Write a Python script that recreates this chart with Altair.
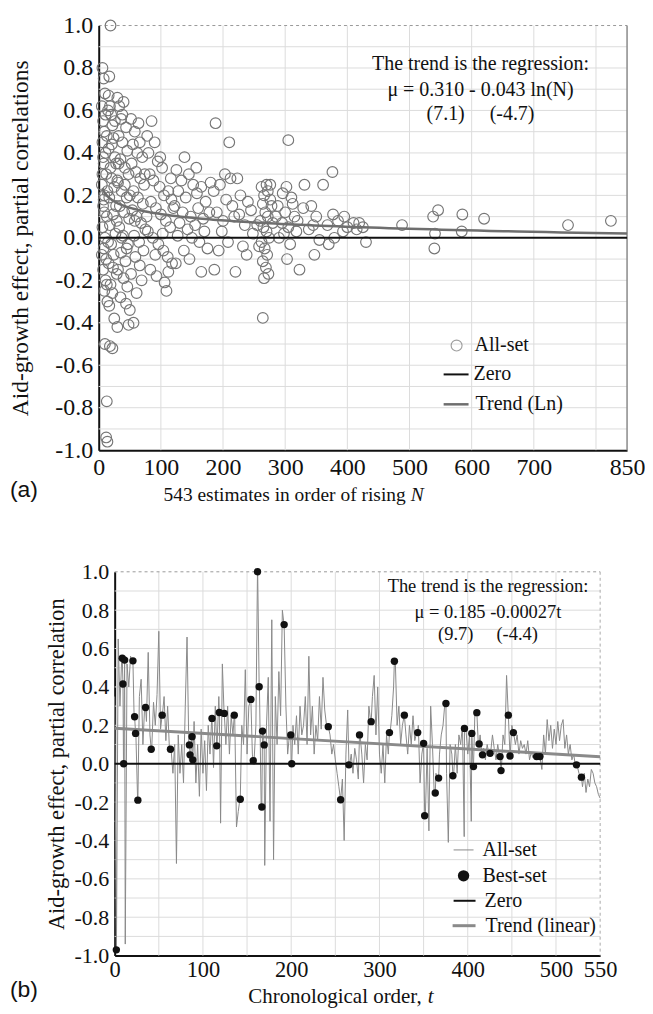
import altair as alt
import numpy as np
import pandas as pd

SERIF = "Liberation Serif"
SANS = "Liberation Sans"
INK = "#111111"
GRID = "#dcdcdc"
NB = "\u00a0"

# ---------------- Panel (a): estimates (N, partial correlation) ----------------
A_BAND_05_15 = [(6, 0.80), (8, 0.75), (10, 0.68), (7, 0.55), (9, 0.50), (6, 0.45), (11, 0.40),
                (8, 0.35), (12, 0.30), (5, 0.25), (9, 0.20), (7, 0.15), (13, 0.10), (6, 0.05),
                (10, 0.00), (8, -0.05), (12, -0.10), (7, -0.15), (11, -0.20), (9, -0.25),
                (14, -0.30), (10, -0.50), (13, -0.77), (12, -0.94), (14, -0.96), (15, 0.60),
                (13, 0.48), (14, 0.22), (15, -0.02), (6, 0.30), (5, 0.62), (7, 0.38), (9, 0.12),
                (11, 0.58), (13, -0.22), (5, -0.08), (8, 0.18)]
A_BAND_15_30 = [(19, 1.00), (17, 0.76), (16, 0.67), (18, 0.62), (20, 0.58), (22, 0.53), (24, 0.47),
                (16, 0.42), (26, 0.38), (19, 0.33), (21, 0.28), (25, 0.24), (17, 0.19), (28, 0.15),
                (23, 0.11), (18, 0.06), (27, 0.02), (20, -0.03), (24, -0.08), (16, -0.12),
                (29, -0.17), (19, -0.22), (22, -0.26), (17, -0.32), (25, -0.38), (30, -0.42),
                (22, -0.52), (18, -0.51), (26, 0.55), (28, 0.35), (29, 0.08), (21, 0.44),
                (30, 0.27), (23, -0.14)]
A_BAND_30_50 = [(30, 0.66), (33, 0.62), (40, 0.64), (36, 0.56), (44, 0.52), (32, 0.48), (38, 0.45),
                (46, 0.41), (35, 0.37), (42, 0.33), (48, 0.30), (31, 0.26), (37, 0.22), (45, 0.19),
                (34, 0.15), (41, 0.12), (49, 0.09), (33, 0.05), (39, 0.01), (47, -0.03),
                (36, -0.07), (43, -0.11), (31, -0.15), (40, -0.19), (46, -0.23), (35, -0.28),
                (44, -0.31), (48, -0.41), (50, -0.34), (38, 0.58), (42, 0.25), (37, 0.00),
                (45, -0.05), (32, 0.35)]
A_BAND_50_75 = [(52, 0.56), (58, 0.50), (64, 0.54), (55, 0.44), (62, 0.40), (70, 0.38), (53, 0.35),
                (60, 0.31), (67, 0.28), (73, 0.25), (56, 0.22), (63, 0.19), (71, 0.16), (54, 0.13),
                (61, 0.10), (68, 0.07), (75, 0.04), (57, 0.01), (65, -0.02), (72, -0.06),
                (59, -0.09), (66, -0.13), (52, -0.17), (69, -0.20), (56, -0.40), (61, -0.26),
                (74, 0.30), (50, 0.20), (58, 0.08), (66, 0.45)]
A_BAND_75_120 = [(85, 0.55), (78, 0.48), (90, 0.45), (80, 0.40), (95, 0.36), (102, 0.33), (82, 0.30),
                 (88, 0.27), (98, 0.24), (105, 0.20), (112, 0.22), (84, 0.17), (92, 0.14),
                 (100, 0.11), (108, 0.08), (115, 0.05), (79, 0.03), (87, 0.00), (96, -0.03),
                 (104, -0.06), (111, -0.09), (118, -0.12), (83, -0.15), (93, -0.18),
                 (106, -0.21), (109, -0.25), (112, -0.16), (99, 0.38), (116, 0.28), (120, 0.14),
                 (77, 0.10), (91, -0.08), (103, 0.02), (117, 0.18)]
A_BAND_120_180 = [(138, 0.38), (125, 0.32), (133, 0.27), (145, 0.30), (152, 0.25), (128, 0.22),
                  (140, 0.19), (158, 0.21), (165, 0.24), (122, 0.15), (135, 0.12), (148, 0.10),
                  (160, 0.14), (172, 0.17), (130, 0.07), (143, 0.04), (155, 0.06), (168, 0.09),
                  (178, 0.12), (127, 0.01), (150, 0.00), (162, -0.02), (175, -0.05),
                  (137, -0.06), (146, -0.10), (165, -0.16), (157, 0.33), (170, 0.03),
                  (124, -0.12), (180, 0.26)]
A_BAND_180_250 = [(188, 0.54), (210, 0.45), (212, 0.28), (223, 0.28), (185, 0.22), (195, 0.25),
                  (205, 0.18), (215, 0.15), (228, 0.20), (240, 0.17), (190, 0.12), (200, 0.08),
                  (218, 0.10), (235, 0.06), (245, 0.13), (186, -0.15), (198, 0.03), (208, -0.02),
                  (220, -0.16), (232, -0.04), (248, 0.02), (238, -0.08), (193, -0.06),
                  (226, 0.11), (203, 0.30)]
A_BAND_250_280 = [(262, 0.24), (266, 0.20), (270, 0.25), (264, 0.16), (268, 0.12), (272, 0.10),
                  (260, 0.08), (265, 0.05), (270, 0.03), (274, 0.00), (262, -0.02), (267, -0.05),
                  (271, -0.08), (264, -0.11), (269, -0.14), (273, -0.17), (266, -0.19),
                  (264, -0.377), (276, 0.25), (278, 0.15), (255, 0.06), (258, -0.04), (280, 0.07),
                  (276, 0.18), (272, 0.22)]
A_BAND_280_360 = [(305, 0.46), (302, 0.24), (296, 0.21), (310, 0.19), (288, 0.15), (300, 0.12),
                  (315, 0.10), (295, 0.07), (305, 0.05), (318, 0.03), (290, 0.00), (308, -0.03),
                  (298, 0.02), (323, -0.15), (329, 0.14), (331, 0.25), (345, 0.06), (355, -0.01),
                  (347, -0.08), (285, 0.10), (312, 0.16), (338, 0.04), (350, 0.10), (303, -0.10),
                  (320, 0.08), (342, 0.15)]
A_BAND_360_450 = [(361, 0.25), (376, 0.31), (377, 0.11), (379, 0.00), (393, 0.03), (368, 0.06),
                  (385, 0.08), (400, 0.05), (410, 0.07), (419, 0.07), (425, 0.05), (430, -0.02),
                  (395, 0.10), (370, -0.03), (415, 0.04)]
A_BAND_450_850 = [(488, 0.06), (538, 0.10), (546, 0.13), (541, 0.02), (540, -0.05), (584, 0.03),
                  (585, 0.11), (620, 0.09), (755, 0.06), (824, 0.08)]

A_TREND_INTERCEPT, A_TREND_SLOPE = 0.310, -0.043   # mu = 0.310 - 0.043 ln(N)
A_X_TICKS = [0, 100, 200, 300, 400, 500, 600, 700, 850]
A_X_GRID = [100, 200, 300, 400, 500, 600, 700, 800]
Y_TICKS = [-1.0, -0.8, -0.6, -0.4, -0.2, 0.0, 0.2, 0.4, 0.6, 0.8, 1.0]
Y_GRID = [-0.9, -0.8, -0.7, -0.6, -0.5, -0.4, -0.3, -0.2, -0.1, 0.1, 0.2, 0.3, 0.4, 0.5,
          0.6, 0.7, 0.8, 0.9]

# ---------------- Panel (b): chronological order ----------------
B_ALL_T = list(range(0, 551, 2))
B_ALL_R = [
    0.35, -0.97, 0.65, 0.30, 0.55, 0.00, -0.94, 0.52, 0.40, 0.56,
    0.53, 0.25, 0.16, -0.19, 0.35, 0.44, 0.10, 0.30, 0.22, 0.58,
    0.15, 0.08, 0.32, 0.20, 0.36, 0.69, 0.18, 0.25, 0.35, 0.12,
    0.30, 0.08, 0.07, -0.05, 0.10, -0.52, 0.15, -0.05, 0.10, -0.10,
    0.30, 0.66, 0.10, 0.05, 0.02, 0.22, -0.10, 0.10, -0.17, 0.18,
    -0.05, 0.12, -0.14, 0.20, 0.05, 0.24, -0.02, 0.30, 0.09, 0.35,
    -0.31, 0.52, 0.26, 0.10, 0.30, 0.05, 0.25, 0.15, 0.25, -0.33,
    -0.25, -0.18, 0.20, 0.10, 0.49, 0.05, 0.30, 0.33, 0.05, 0.02,
    0.20, 1.00, 0.40, -0.22, 0.17, -0.53, 0.20, 0.45, -0.30, 0.75,
    -0.50, 0.35, 0.10, 0.48, 0.25, 0.80, 0.72, 0.30, 0.05, 0.15,
    0.00, 0.20, 0.10, 0.25, 0.05, 0.30, 0.15, 0.20, 0.35, 0.10,
    0.56, 0.15, 0.30, 0.05, 0.20, 0.12, 0.35, 0.18, 0.45, 0.28,
    0.20, 0.19, 0.15, 0.05, 0.10, 0.02, -0.05, -0.12, -0.19, -0.08,
    -0.40, 0.05, 0.28, -0.01, 0.05, -0.05, 0.08, 0.02, -0.08, 0.15,
    0.05, -0.10, 0.10, 0.02, 0.30, 0.22, 0.35, 0.46, 0.15, 0.40,
    0.05, -0.05, 0.10, -0.10, 0.15, 0.05, 0.16, 0.25, 0.40, 0.53,
    0.20, 0.30, 0.10, 0.20, 0.25, 0.15, 0.05, 0.20, 0.10, 0.25,
    0.12, 0.16, 0.20, -0.10, 0.05, 0.11, -0.27, 0.08, -0.35, 0.30,
    0.10, -0.15, -0.05, -0.08, 0.05, 0.15, 0.20, 0.31, -0.05, -0.41,
    0.10, 0.05, -0.06, 0.10, -0.05, 0.15, 0.10, 0.20, -0.38, 0.18,
    0.05, 0.15, -0.30, -0.02, 0.25, 0.27, 0.10, 0.15, 0.05, 0.08,
    0.02, 0.10, 0.05, 0.06, 0.15, 0.08, 0.02, 0.10, 0.04, -0.04,
    0.15, 0.10, 0.46, 0.25, 0.04, 0.20, 0.16, 0.10, 0.15, 0.05,
    0.12, 0.08, 0.10, 0.05, 0.12, 0.02, 0.06, 0.03, 0.05, 0.04,
    0.04, 0.03, -0.03, 0.15, 0.05, 0.23, 0.12, 0.20, 0.08, 0.18,
    0.10, 0.22, 0.12, 0.20, 0.23, 0.08, 0.15, 0.05, 0.10, 0.02,
    0.05, -0.01, -0.01, -0.05, -0.07, -0.12, -0.05, -0.15, -0.08, -0.12,
    -0.03, -0.05, -0.10, -0.12, -0.16, -0.18,
]
B_BEST = [(1.9, -0.97), (8.6, 0.55), (11.3, 0.54), (20.7, 0.536), (9.4, 0.415), (10.2, 0.0),
          (22.6, 0.245), (23.7, 0.158), (26.3, -0.19), (35, 0.293), (41.4, 0.075), (53.8, 0.253),
          (63.2, 0.075), (84.7, 0.098), (85.4, 0.046), (88.5, 0.02), (87.7, 0.141),
          (110.3, 0.236), (115.6, 0.093), (118.6, 0.267), (124.2, 0.262), (135.5, 0.253),
          (142.3, -0.185), (154.3, 0.335), (157, 0.016), (161.8, 1.0), (163.7, 0.401),
          (166.7, -0.226), (167.5, 0.17), (169.4, 0.098), (192, 0.725), (199.5, 0.15),
          (200.6, 0.0), (242, 0.193), (256, -0.188), (265.4, -0.006), (277.4, 0.15),
          (290.6, 0.219), (311.3, 0.162), (316.9, 0.534), (328.2, 0.253), (343.3, 0.162),
          (350, 0.106), (351.2, -0.271), (363.2, -0.153), (367, -0.075), (375.3, 0.314),
          (383.2, -0.063), (396.3, 0.184), (404.6, 0.158), (406.5, -0.015), (410.3, 0.266),
          (412.9, 0.103), (416.7, 0.046), (425.3, 0.054), (436.6, 0.037), (437.7, -0.036),
          (446, 0.253), (447.9, 0.04), (451.7, 0.162), (478, 0.037), (481.8, 0.037),
          (523.2, -0.006), (528.8, -0.07)]
B_TREND_INTERCEPT, B_TREND_SLOPE = 0.185, -0.00027   # mu = 0.185 - 0.00027 t
B_X_TICKS = [0, 100, 200, 300, 400, 500, 550]
B_X_GRID = [50, 100, 150, 200, 250, 300, 350, 400, 450, 500]

# layout (both panels share the same left origin; panel b is inset by B_IN)
W_A, H_A = 530, 426
B_IN = 16
W_B, H_B = 503, 385

ONE = pd.DataFrame({"k": [0]})
MINUS_FIX = "(datum.value < 0 ? '-' : '') + format(abs(datum.value), '.1f')"


def text(txt, x, y, size, font=SERIF, align="left", style="normal"):
    return alt.Chart(ONE).mark_text(
        text=txt, font=font, fontSize=size, align=align, baseline="middle", color=INK,
        fontStyle=style
    ).encode(x=alt.value(x), y=alt.value(y))


def hline(x1, x2, y, color, width, dash=None):
    kw = dict(color=color, strokeWidth=width)
    if dash:
        kw["strokeDash"] = dash
    return alt.Chart(ONE).mark_rule(**kw).encode(x=alt.value(x1), x2=alt.value(x2), y=alt.value(y))


def vline(x, y1, y2, color, width, dash=None):
    kw = dict(color=color, strokeWidth=width)
    if dash:
        kw["strokeDash"] = dash
    return alt.Chart(ONE).mark_rule(**kw).encode(x=alt.value(x), y=alt.value(y1), y2=alt.value(y2))


def make_axes(x_ticks, y_title, ytitle_x, ytitle_y, xlab, ylab, tsize, xpad=5, yoffset=0):
    common = dict(grid=False, ticks=False, domainColor=INK, domainWidth=2, labelFont=SERIF,
                  labelColor=INK, labelFlush=False, labelOverlap=False, titleFont=SERIF,
                  titleFontWeight="normal", titleColor=INK, titleFontSize=tsize)
    ax = alt.Axis(values=x_ticks, format="d", title=None, labelFontSize=xlab, labelPadding=xpad,
                  **common)
    ay = alt.Axis(values=Y_TICKS, labelExpr=MINUS_FIX, title=y_title, labelFontSize=ylab,
                  labelPadding=6, titleX=ytitle_x, titleY=ytitle_y, titleAngle=270,
                  titleAlign="center", titleBaseline="middle", offset=yoffset, **common)
    return ax, ay


ys = alt.Scale(domain=[-1, 1], nice=False)

# ---------------- build panel (a) ----------------
rows = []
for band in [A_BAND_05_15, A_BAND_15_30, A_BAND_30_50, A_BAND_50_75, A_BAND_75_120,
             A_BAND_120_180, A_BAND_180_250, A_BAND_250_280, A_BAND_280_360,
             A_BAND_360_450, A_BAND_450_850]:
    rows.extend(band)
df_a = pd.DataFrame(rows, columns=["x", "y"])

xa = alt.Scale(domain=[0, 850], nice=False, zero=False)
ax_a, ay_a = make_axes(A_X_TICKS, "Aid-growth effect, partial correlations", -78, H_A / 2,
                       24, 24, 23.5)


def XA():
    return alt.X("x:Q", scale=xa, axis=ax_a)


def YA():
    return alt.Y("y:Q", scale=ys, axis=ay_a)


gh_a = alt.Chart(pd.DataFrame({"y": Y_GRID})).mark_rule(color=GRID, strokeWidth=1).encode(
    y=YA(), x=alt.value(0), x2=alt.value(W_A))
gv_a = alt.Chart(pd.DataFrame({"x": A_X_GRID})).mark_rule(color=GRID, strokeWidth=1).encode(
    x=XA(), y=alt.value(0), y2=alt.value(H_A))

points_a = alt.Chart(df_a).mark_point(shape="circle", filled=False, size=115, color="#767676",
                                      strokeWidth=1.15, opacity=1).encode(x=XA(), y=YA())

zero_a = alt.Chart(pd.DataFrame({"x": [0], "x2": [850], "y": [0]})).mark_rule(
    color=INK, strokeWidth=2).encode(x=XA(), x2="x2:Q", y=YA())

trend_a = alt.Chart(pd.DataFrame({"x": np.geomspace(6, 850, 150)})).transform_calculate(
    y=f"{A_TREND_INTERCEPT} + ({A_TREND_SLOPE}) * log(datum.x)"
).mark_line(color="#6e6e6e", strokeWidth=2.5).encode(x=XA(), y=YA())

leg_a = [
    alt.Chart(ONE).mark_point(shape="circle", filled=False, size=120, color="#767676",
                              strokeWidth=1.15).encode(x=alt.value(359), y=alt.value(321)),
    text("All-set", 377, 321, 20),
    hline(346, 371, 350, INK, 2),
    text("Zero", 376, 350, 20),
    hline(346, 371, 380, "#6e6e6e", 2.5),
    text("Trend (Ln)", 378, 380, 20),
]

panel_a = alt.layer(
    gh_a, gv_a,
    hline(0, W_A, 0, "#9a9a9a", 1, [3, 3]),
    vline(W_A, 0, H_A, "#8a8a8a", 1.5),
    points_a, zero_a, trend_a,
    text("The trend is the regression:", 383, 39, 20, align="center"),
    text("μ = 0.310 - 0.043 ln(N)", 383, 65, 20, align="center"),
    text(f"(7.1){NB*5}(-4.7)", 383, 89, 20, align="center"),
    *leg_a,
    text("543 estimates in order of rising", 65, 471, 19.5),
    text("N", 313, 471, 19.5, style="italic"),
    text("(a)", -89, 466, 23, font=SANS),
).properties(width=W_A, height=H_A)

# ---------------- build panel (b) ----------------
df_line = pd.concat([
    pd.DataFrame({"x": B_ALL_T, "y": B_ALL_R}),
    pd.DataFrame(B_BEST, columns=["x", "y"]),
]).sort_values("x", kind="stable")
df_best = pd.DataFrame(B_BEST, columns=["x", "y"])

xb = alt.Scale(domain=[0, 550], nice=False, zero=False, range=[B_IN, W_B])
ax_b, ay_b = make_axes(B_X_TICKS, "Aid-growth effect, partial correlation", -58, H_B / 2,
                       22.5, 22, 22.5, xpad=3, yoffset=-B_IN)


def XB():
    return alt.X("x:Q", scale=xb, axis=ax_b)


def YB():
    return alt.Y("y:Q", scale=ys, axis=ay_b)


gh_b = alt.Chart(pd.DataFrame({"y": Y_GRID})).mark_rule(color=GRID, strokeWidth=1).encode(
    y=YB(), x=alt.value(B_IN), x2=alt.value(W_B))
gv_b = alt.Chart(pd.DataFrame({"x": B_X_GRID})).mark_rule(color=GRID, strokeWidth=1).encode(
    x=XB(), y=alt.value(0), y2=alt.value(H_B))

line_b = alt.Chart(df_line).mark_line(color="#8a8a8a", strokeWidth=1).encode(
    x=XB(), y=YB(), order="x:Q")
best_b = alt.Chart(df_best).mark_circle(size=55, color=INK, opacity=1).encode(x=XB(), y=YB())
zero_b = alt.Chart(pd.DataFrame({"x": [0], "x2": [550], "y": [0]})).mark_rule(
    color=INK, strokeWidth=2).encode(x=XB(), x2="x2:Q", y=YB())
trend_b = alt.Chart(pd.DataFrame({"x": [0, 550]})).transform_calculate(
    y=f"{B_TREND_INTERCEPT} + ({B_TREND_SLOPE}) * datum.x"
).mark_line(color="#8a8a8a", strokeWidth=3).encode(x=XB(), y=YB())

o = B_IN
leg_b = [
    hline(o + 340, o + 360, 279, "#8a8a8a", 1),
    text("All-set", o + 369, 279, 20),
    alt.Chart(ONE).mark_circle(size=130, color=INK, opacity=1).encode(
        x=alt.value(o + 350), y=alt.value(305)),
    text("Best-set", o + 369, 305, 20),
    hline(o + 340, o + 362, 330, INK, 2),
    text("Zero", o + 371, 330, 20),
    hline(o + 339, o + 362, 355, "#8a8a8a", 3),
    text("Trend (linear)", o + 372, 355, 20),
]

panel_b = alt.layer(
    gh_b, gv_b,
    hline(o, W_B, 0, "#9a9a9a", 1, [3, 3]),
    vline(W_B, 0, H_B, "#aaaaaa", 1, [3, 3]),
    line_b, zero_b, trend_b, best_b,
    text("The trend is the regression:", o + 374.5, 14, 18.5, align="center"),
    text("μ = 0.185 -0.00027t", o + 374.5, 40, 18.5, align="center"),
    text(f"(9.7){NB*5}(-4.4)", o + 374.5, 62, 18.5, align="center"),
    *leg_b,
    text("Chronological order,", 150, 427, 21),
    text("t", 150 + 180, 427, 21, style="italic"),
    text("(b)", -89, 420, 23, font=SANS),
).properties(width=W_B, height=H_B)

chart = alt.vconcat(panel_a, panel_b, spacing=56).properties(
    padding={"left": 0, "top": 4, "right": 0, "bottom": 0}
).configure_view(stroke=None)

chart.save("out.html", embed_options={"renderer": "svg", "actions": False})
